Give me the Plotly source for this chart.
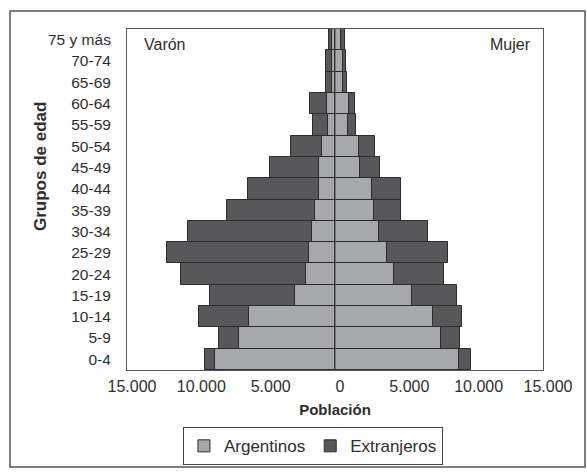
import plotly.graph_objects as go

grupos = ["0-4", "5-9", "10-14", "15-19", "20-24", "25-29", "30-34", "35-39",
          "40-44", "45-49", "50-54", "55-59", "60-64", "65-69", "70-74", "75 y más"]

varon_arg = [8630, 6950, 6230, 2860, 2090, 1880, 1640, 1420, 1130, 1130, 940, 500, 580, 220, 220, 200]
varon_ext = [770, 1390, 3610, 6180, 9040, 10220, 8990, 6370, 5120, 3580, 2240, 1110, 1200, 460, 460, 250]
mujer_arg = [8960, 7620, 7070, 5520, 4230, 3750, 3200, 2780, 2640, 1770, 1700, 940, 980, 550, 550, 450]
mujer_ext = [840, 1420, 2110, 3270, 3660, 4400, 3510, 1980, 2120, 1440, 1200, 580, 460, 310, 270, 250]

tick_vals = [-15000, -10000, -5000, 0, 5000, 10000, 15000]
tick_text = ["15.000", "10.000", "5.000", "0", "5.000", "10.000", "15.000"]

C_ARG = "#a7a8ab"
C_EXT = "#58585b"
C_LINE = "#2b2b2b"

fig = go.Figure()
fig.add_trace(go.Bar(y=grupos, x=[-v for v in varon_arg], orientation="h", name="Argentinos",
                     legendgroup="arg", marker=dict(color=C_ARG, line=dict(color=C_LINE, width=1))))
fig.add_trace(go.Bar(y=grupos, x=mujer_arg, orientation="h", name="Argentinos", showlegend=False,
                     legendgroup="arg", marker=dict(color=C_ARG, line=dict(color=C_LINE, width=1))))
fig.add_trace(go.Bar(y=grupos, x=[-v for v in varon_ext], orientation="h", name="Extranjeros",
                     legendgroup="ext", marker=dict(color=C_EXT, line=dict(color=C_LINE, width=1))))
fig.add_trace(go.Bar(y=grupos, x=mujer_ext, orientation="h", name="Extranjeros", showlegend=False,
                     legendgroup="ext", marker=dict(color=C_EXT, line=dict(color=C_LINE, width=1))))

FONT = "Liberation Sans, Arial, sans-serif"
TXT = "#2e2e2e"

fig.update_layout(
    width=587, height=475,
    margin=dict(l=127, r=44, t=29, b=105, autoexpand=False),
    barmode="relative", bargap=0,
    plot_bgcolor="white", paper_bgcolor="white",
    font=dict(family=FONT, size=14, color=TXT),
    xaxis=dict(range=[-15000, 15000], tickvals=tick_vals, ticktext=tick_text, automargin=False,
               showgrid=False, zeroline=False, showline=True, linecolor="#555555",
               mirror=True, ticks="", ticklabelshift=5, ticklabelstandoff=2,
               tickfont=dict(size=16, color=TXT),
               title=dict(text="<b>Población</b>", font=dict(size=15, color=TXT), standoff=10)),
    yaxis=dict(showgrid=False, zeroline=False, showline=True, linecolor="#555555", mirror=True,
               ticks="", automargin=False, ticklabelstandoff=12,
               tickfont=dict(size=15.5, color=TXT)),
    legend=dict(orientation="h", x=0.447, xanchor="center", y=-0.168, yanchor="top",
                bordercolor="#444444", borderwidth=1, font=dict(size=17, color=TXT),
                itemwidth=30, traceorder="normal"),
    showlegend=True,
    annotations=[
        dict(text="Varón", xref="paper", yref="paper", x=0.035, y=0.985, xanchor="left", yanchor="top",
             showarrow=False, font=dict(size=16, color=TXT)),
        dict(text="Mujer", xref="paper", yref="paper", x=0.975, y=0.985, xanchor="right", yanchor="top",
             showarrow=False, font=dict(size=16, color=TXT)),
        dict(text="<b>Grupos de edad</b>", xref="paper", yref="paper",
             x=(40 - 127) / 416, y=(370 - 167) / 341, xanchor="center", yanchor="middle",
             textangle=-90, showarrow=False, font=dict(size=17, color=TXT)),
    ],
    shapes=[
        dict(type="line", xref="x", yref="paper", x0=0, x1=0, y0=0, y1=1,
             line=dict(color="#444444", width=1), layer="above"),
        dict(type="rect", xref="paper", yref="paper",
             x0=(10 - 127) / 416, x1=(585 - 127) / 416,
             y0=(370 - 467) / 341, y1=(370 - 11) / 341,
             line=dict(color="#555555", width=1.5), layer="below"),
    ],
)

fig.write_html("out.html", config={"displayModeBar": False},
               post_script="document.body.style.margin='0';")
